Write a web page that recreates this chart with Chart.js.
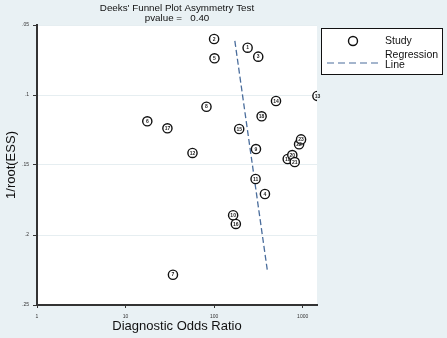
<!DOCTYPE html>
<html lang="en">
<head>
    <meta charset="UTF-8">
    <title>Deeks' Funnel Plot Asymmetry Test</title>
    <script src="https://cdn.jsdelivr.net/npm/chart.js"></script>
    <style>
        body {
            margin: 0;
            padding: 0;
            background: #e9f1f4;
            font-family: 'Liberation Sans', Arial, sans-serif;
        }
        .wrap {
            width: 447px;
            height: 338px;
        }
    </style>
</head>
<body>
    <div class="wrap"><canvas id="funnelChart" width="447" height="338"></canvas></div>

    <script>
        // study data
        const studyLabels = ['1', '2', '3', '4', '5', '6', '7', '8', '9', '10', '11', '12',
                             '13', '14', '15', '16', '17', '18', '19', '20', '21', '22', '23'];
        const dor = [239, 100, 315, 375, 101, 17.6, 34.3, 82, 297, 164, 294, 57,
                     1468, 500, 192, 176, 29.7, 344, 678, 764, 814, 911, 959];
        const invRootEss = [0.0662, 0.0600, 0.0726, 0.1707, 0.0738, 0.1188, 0.2284, 0.1084, 0.1386, 0.1859, 0.1600, 0.1414,
                            0.1007, 0.1043, 0.1243, 0.1921, 0.1238, 0.1152, 0.1457, 0.1429, 0.1479, 0.1352, 0.1317];

        // regression line end points
        const regDor = [171.5, 402.5];
        const regY = [0.0614, 0.2269];

        const xTicks = [1, 10, 100, 1000];
        const xTickLabels = ['1', '10', '100', '1000'];
        const yTicks = [0.05, 0.1, 0.15, 0.2, 0.25];
        const yTickLabels = ['.05', '.1', '.15', '.2', '.25'];

        const titleLines = ["Deeks' Funnel Plot Asymmetry Test", 'pvalue =   0.40'];
        const legendItems = ['Study', 'Regression', 'Line'];

        const lineColor = '#4a6d9c';
        const font = "'Liberation Sans', Arial, sans-serif";

        const funnelPlugin = {
            id: 'funnelExtras',
            beforeDraw(chart) {
                const { ctx, chartArea } = chart;
                ctx.save();
                ctx.fillStyle = '#ffffff';
                ctx.fillRect(chartArea.left, chartArea.top, chartArea.right - chartArea.left, chartArea.bottom - chartArea.top);
                ctx.restore();
            },
            afterDatasetsDraw(chart) {
                const { ctx, chartArea } = chart;
                ctx.save();
                // numbers inside the study circles
                const meta = chart.getDatasetMeta(0);
                ctx.fillStyle = '#222';
                ctx.font = 'bold 5px ' + font;
                ctx.textAlign = 'center';
                ctx.textBaseline = 'middle';
                meta.data.forEach((pt, i) => {
                    ctx.fillText(studyLabels[i], pt.x, pt.y + 0.3);
                });

                // title
                const cx = (chartArea.left + chartArea.right) / 2;
                ctx.fillStyle = '#111';
                ctx.font = '9.8px ' + font;
                ctx.textBaseline = 'middle';
                ctx.fillText(titleLines[0], cx, 8.5);
                ctx.fillText(titleLines[1], cx, 18);

                // legend box
                const lx = 321, ly = 28, lw = 122, lh = 47;
                ctx.fillStyle = '#ffffff';
                ctx.fillRect(lx, ly, lw, lh);
                ctx.strokeStyle = '#111';
                ctx.lineWidth = 1;
                ctx.strokeRect(lx + 0.5, ly + 0.5, lw - 1, lh - 1);

                ctx.beginPath();
                ctx.arc(353, 41, 4.5, 0, Math.PI * 2);
                ctx.fillStyle = '#fff';
                ctx.fill();
                ctx.lineWidth = 1.4;
                ctx.strokeStyle = '#111';
                ctx.stroke();

                ctx.beginPath();
                ctx.setLineDash([7, 4]);
                ctx.strokeStyle = lineColor;
                ctx.lineWidth = 1.2;
                ctx.moveTo(327, 63);
                ctx.lineTo(378, 63);
                ctx.stroke();
                ctx.setLineDash([]);

                ctx.fillStyle = '#111';
                ctx.font = '10.5px ' + font;
                ctx.textAlign = 'left';
                ctx.fillText(legendItems[0], 385, 41);
                ctx.fillText(legendItems[1], 385, 55.5);
                ctx.fillText(legendItems[2], 385, 65.5);
                ctx.restore();
            }
        };

        new Chart(document.getElementById('funnelChart').getContext('2d'), {
            type: 'scatter',
            data: {
                datasets: [{
                    label: 'Study',
                    data: dor.map((v, i) => ({ x: v, y: invRootEss[i] })),
                    pointRadius: 4.6,
                    pointBorderWidth: 1.4,
                    pointBorderColor: '#111',
                    pointBackgroundColor: '#ffffff',
                    order: 1
                }, {
                    type: 'line',
                    label: 'Regression Line',
                    data: regDor.map((v, i) => ({ x: v, y: regY[i] })),
                    borderColor: lineColor,
                    borderWidth: 1.3,
                    borderDash: [6, 3],
                    pointRadius: 0,
                    fill: false,
                    order: 2
                }]
            },
            options: {
                responsive: false,
                animation: false,
                layout: {
                    padding: { top: 25, right: 130, left: 0, bottom: 0 }
                },
                plugins: {
                    legend: { display: false },
                    title: { display: false },
                    tooltip: { enabled: false }
                },
                scales: {
                    x: {
                        type: 'logarithmic',
                        min: 1,
                        max: 1452,
                        afterBuildTicks: scale => { scale.ticks = xTicks.map(v => ({ value: v })); },
                        afterFit: scale => { scale.height = 33; },
                        border: { color: '#333', width: 2 },
                        grid: { drawOnChartArea: false, tickLength: 3, tickColor: '#333' },
                        ticks: {
                            color: '#333',
                            font: { size: 5, family: font },
                            padding: 6,
                            maxRotation: 0,
                            autoSkip: false,
                            callback: (v) => xTickLabels[xTicks.indexOf(v)]
                        },
                        title: {
                            display: true,
                            text: 'Diagnostic Odds Ratio',
                            color: '#111',
                            font: { size: 13, family: font },
                            padding: { top: 0, bottom: 4 }
                        }
                    },
                    y: {
                        reverse: true,
                        min: 0.05,
                        max: 0.25,
                        afterBuildTicks: scale => { scale.ticks = yTicks.map(v => ({ value: v })); },
                        afterFit: scale => { scale.width = 37; },
                        border: { color: '#333', width: 2 },
                        grid: { color: '#e6eef1', lineWidth: 1, tickLength: 4, tickColor: '#333' },
                        ticks: {
                            color: '#333',
                            font: { size: 5, family: font },
                            padding: 4,
                            autoSkip: false,
                            callback: (v) => yTickLabels[yTicks.findIndex(t => Math.abs(t - v) < 1e-9)]
                        },
                        title: {
                            display: true,
                            text: '1/root(ESS)',
                            color: '#111',
                            font: { size: 13, family: font },
                            padding: { top: 4, bottom: 0 }
                        }
                    }
                }
            },
            plugins: [funnelPlugin]
        });
    </script>
</body>
</html>
